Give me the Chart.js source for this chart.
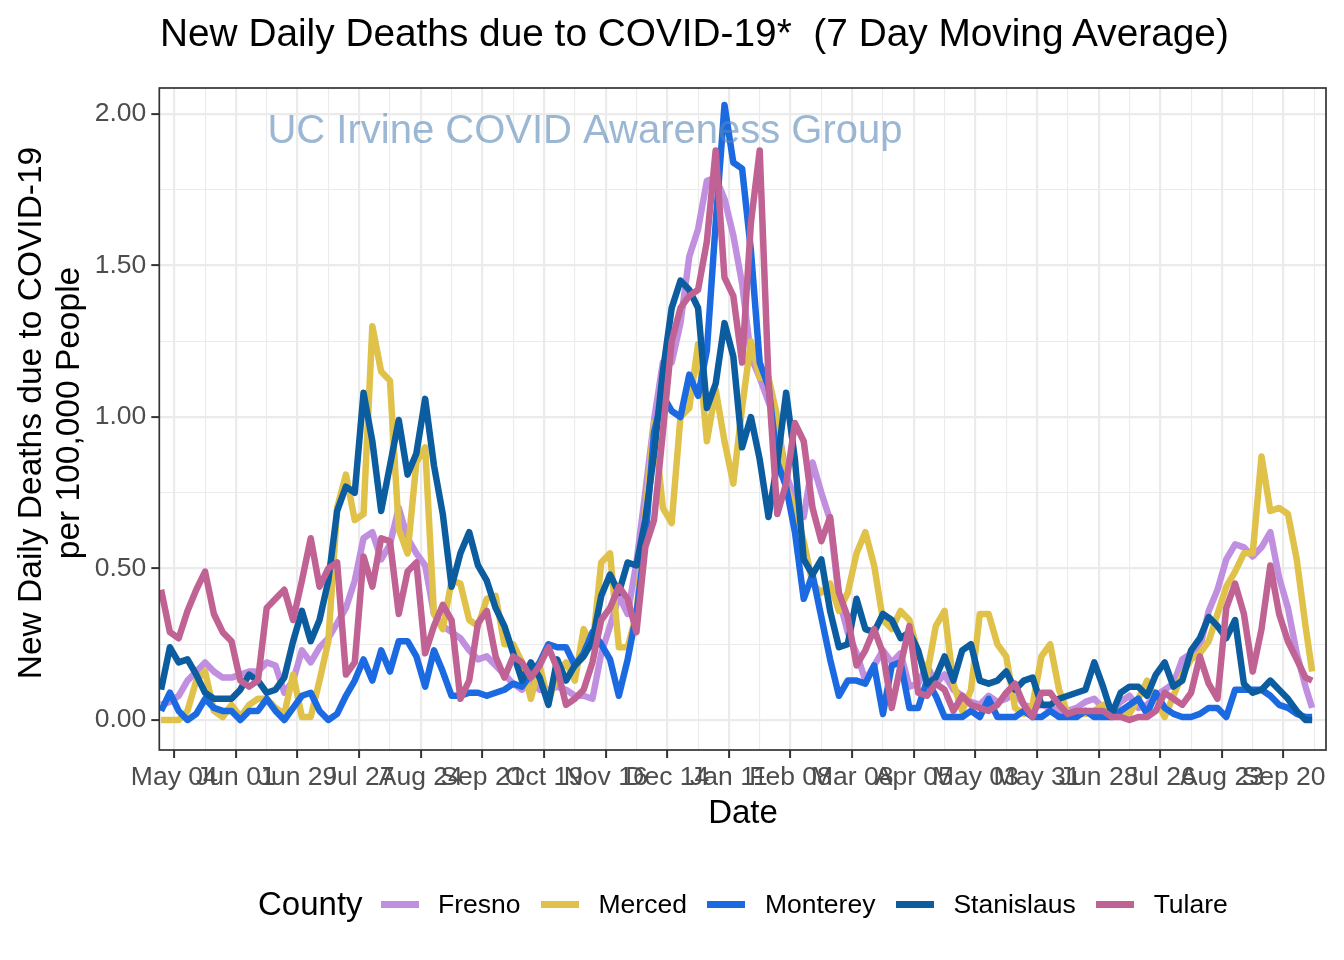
<!DOCTYPE html>
<html>
<head>
<meta charset="utf-8">
<script src="https://cdn.jsdelivr.net/npm/chart.js@4.4.0/dist/chart.umd.min.js"></script>
<style>
  body { margin: 0; background: #fff; font-family: "Liberation Sans", Arial, sans-serif; }
  #wrap { position: relative; width: 1344px; height: 960px; overflow: hidden; }
  #chart { position: absolute; left: 0; top: 0; }
  .txt { position: absolute; white-space: nowrap; color: #000; line-height: 1; }
  #title { left: 160px; top: 14px; font-size: 38.8px; }
  #ytitle { left: -281px; top: 375px; width: 660px; height: 76px; font-size: 33.5px; line-height: 38px;
            text-align: center; transform: rotate(-90deg); }
  #xtitle { left: 643px; top: 795px; width: 200px; text-align: center; font-size: 33px; }
  #legend { position: absolute; left: 258px; top: 880px; display: flex; align-items: flex-start; }
  #legend .head { font-size: 33px; line-height: 1; margin-top: 7px; }
  #legend .key { width: 38px; height: 7px; margin-top: 21px; margin-left: 20.5px; }
  #legend .key.first { margin-left: 18px; }
  #legend .lab { font-size: 26.5px; line-height: 1; margin-top: 11px; margin-left: 19.5px; }
</style>
</head>
<body>
<div id="wrap">
  <canvas id="chart" width="1344" height="960"></canvas>
  <div class="txt" id="title">New Daily Deaths due to COVID-19*&nbsp; (7 Day Moving Average)</div>
  <div class="txt" id="ytitle">New Daily Deaths due to COVID-19<br>per 100,000 People</div>
  <div class="txt" id="xtitle">Date</div>
  <div id="legend"><div class="head">County</div></div>
</div>
<script>
// days since 2020-05-04
var days = [-6,-2,2,6,10,14,18,22,26,30,34,38,42,46,50,54,58,62,66,70,74,78,82,86,90,94,98,102,106,110,
  114,118,122,126,130,134,138,142,146,150,154,158,162,166,170,174,178,182,186,190,194,198,202,206,210,214,
  218,222,226,230,234,238,242,246,250,254,258,262,266,270,274,278,282,286,290,294,298,302,306,310,314,318,
  322,326,330,334,338,342,346,350,354,358,362,366,370,374,378,382,386,390,394,398,402,406,410,414,418,422,
  426,430,434,438,442,446,450,454,458,462,466,470,474,478,482,486,490,494,498,502,506,510,514,517];

var fresno = [0.05,0.06,0.08,0.13,0.16,0.19,0.16,0.14,0.14,0.15,0.16,0.16,0.19,0.18,0.09,0.13,0.23,0.19,0.24,0.27,0.32,0.37,0.46,0.60,
  0.62,0.53,0.58,0.70,0.60,0.55,0.51,0.35,0.31,0.29,0.27,0.23,0.20,0.21,0.18,0.15,0.12,0.10,0.13,0.10,0.10,0.11,
  0.10,0.08,0.08,0.07,0.22,0.31,0.41,0.35,0.52,0.75,0.99,1.18,1.18,1.31,
  1.53,1.62,1.78,1.79,1.72,1.60,1.44,1.20,1.13,1.05,0.98,0.81,
  0.73,0.67,0.85,0.75,0.66,0.40,0.29,0.22,0.13,0.18,0.23,0.19,0.22,0.11,0.12,0.18,0.12,
  0.15,0.10,0.08,0.06,0.05,0.08,0.06,0.07,0.09,0.05,0.04,0.05,0.04,0.03,0.03,0.04,0.06,0.07,0.04,0.03,0.06,0.08,
  0.04,0.05,0.08,0.10,0.12,0.20,0.22,0.24,0.36,0.43,0.53,0.58,0.57,0.54,0.57,0.62,0.47,0.37,0.22,0.11,0.04];

var merced = [0.00,0.00,0.00,0.03,0.13,0.16,0.03,0.01,0.05,0.01,0.05,0.07,0.07,0.04,0.02,0.15,0.01,0.01,0.13,0.26,0.70,0.81,0.66,0.68,
  1.30,1.15,1.12,0.63,0.55,0.85,0.90,0.35,0.30,0.46,0.45,0.33,0.31,0.40,0.41,0.25,0.25,0.19,0.07,0.18,0.06,0.15,
  0.19,0.13,0.30,0.24,0.52,0.55,0.24,0.24,0.35,0.68,0.98,0.70,0.65,1.00,
  1.03,1.24,0.92,1.09,0.92,0.78,1.03,1.25,1.13,1.13,1.00,0.77,
  0.70,0.59,0.45,0.42,0.45,0.36,0.42,0.55,0.62,0.51,0.33,0.30,0.36,0.33,0.22,0.15,0.31,
  0.36,0.12,0.03,0.10,0.35,0.35,0.25,0.21,0.04,0.02,0.05,0.21,0.25,0.10,0.02,0.02,0.02,0.03,0.05,0.02,0.03,0.02,
  0.07,0.13,0.07,0.01,0.08,0.15,0.20,0.22,0.26,0.35,0.44,0.49,0.55,0.55,0.87,0.69,0.70,0.68,0.53,0.31,0.16];

var monterey = [0.03,0.09,0.03,0.00,0.02,0.07,0.04,0.03,0.03,0.00,0.03,0.03,0.07,0.03,0.00,0.04,0.08,0.09,0.03,0.00,0.02,0.08,0.13,0.20,
  0.13,0.23,0.16,0.26,0.26,0.21,0.11,0.23,0.16,0.08,0.08,0.09,0.09,0.08,0.09,0.10,0.12,0.11,0.15,0.19,0.25,0.24,
  0.24,0.18,0.22,0.29,0.25,0.20,0.08,0.20,0.35,0.59,0.95,1.07,1.02,1.00,
  1.14,1.07,1.22,1.64,2.03,1.84,1.82,1.55,1.18,1.10,0.85,0.77,
  0.62,0.40,0.48,0.34,0.20,0.08,0.13,0.13,0.12,0.18,0.02,0.18,0.19,0.04,0.04,0.13,0.08,
  0.01,0.01,0.01,0.03,0.01,0.07,0.01,0.01,0.01,0.03,0.01,0.01,0.03,0.01,0.01,0.01,0.03,0.01,0.01,0.01,0.03,0.05,
  0.07,0.02,0.09,0.04,0.02,0.01,0.01,0.02,0.04,0.04,0.01,0.10,0.10,0.10,0.10,0.08,0.05,0.04,0.02,0.01,0.01];

var stanislaus = [0.10,0.24,0.19,0.20,0.15,0.09,0.07,0.07,0.07,0.10,0.15,0.13,0.09,0.10,0.14,0.26,0.36,0.26,0.33,0.46,0.69,0.77,0.75,1.08,
  0.92,0.69,0.84,0.99,0.81,0.88,1.06,0.84,0.68,0.44,0.55,0.62,0.51,0.46,0.37,0.31,0.22,0.13,0.19,0.14,0.05,0.20,
  0.13,0.18,0.21,0.26,0.41,0.48,0.42,0.52,0.51,0.66,0.88,1.15,1.36,1.45,
  1.42,1.36,1.03,1.11,1.31,1.20,0.90,1.00,0.86,0.67,0.85,1.08,
  0.86,0.53,0.48,0.53,0.36,0.24,0.25,0.40,0.30,0.29,0.35,0.33,0.27,0.29,0.23,0.12,0.14,
  0.21,0.13,0.23,0.25,0.13,0.12,0.13,0.16,0.10,0.13,0.14,0.05,0.05,0.07,0.08,0.09,0.10,0.19,0.11,0.02,0.09,0.11,
  0.11,0.08,0.15,0.19,0.11,0.13,0.23,0.27,0.34,0.31,0.27,0.33,0.12,0.09,0.10,0.13,0.10,0.07,0.03,0.00,0.00];

var tulare = [0.43,0.29,0.27,0.36,0.43,0.49,0.35,0.29,0.26,0.13,0.11,0.13,0.37,0.40,0.43,0.33,0.46,0.60,0.44,0.50,0.52,0.15,0.19,0.54,
  0.44,0.60,0.59,0.35,0.49,0.52,0.22,0.31,0.38,0.33,0.07,0.13,0.32,0.36,0.21,0.14,0.21,0.19,0.14,0.18,0.24,0.17,
  0.05,0.07,0.10,0.19,0.33,0.37,0.44,0.40,0.29,0.57,0.66,0.95,1.25,1.36,
  1.40,1.42,1.58,1.88,1.46,1.40,1.18,1.64,1.88,1.12,0.68,0.78,
  0.98,0.92,0.70,0.59,0.67,0.42,0.34,0.18,0.23,0.30,0.22,0.04,0.18,0.31,0.09,0.08,0.12,
  0.10,0.03,0.08,0.05,0.04,0.03,0.05,0.09,0.12,0.05,0.01,0.09,0.09,0.05,0.02,0.03,0.03,0.03,0.03,0.01,0.01,0.00,
  0.01,0.01,0.03,0.09,0.07,0.05,0.09,0.21,0.12,0.07,0.37,0.45,0.35,0.16,0.30,0.51,0.35,0.26,0.20,0.14,0.13];

var counties = ["Fresno", "Merced", "Monterey", "Stanislaus", "Tulare"];
var xTickLabels = ["May 04","Jun 01","Jun 29","Jul 27","Aug 24","Sep 21","Oct 19","Nov 16","Dec 14","Jan 11",
  "Feb 08","Mar 08","Apr 05","May 03","May 31","Jun 28","Jul 26","Aug 23","Sep 20"];
var yTickLabels = ["0.00", "0.50", "1.00", "1.50", "2.00"];
var watermark = "UC Irvine COVID Awareness Group";

var colors = ["#C18FE0", "#E0C14A", "#1B6AE1", "#0B5DA0", "#C06293"];
var series = [fresno, merced, monterey, stanislaus, tulare];
var fontFamily = '"Liberation Sans", Arial, sans-serif';

var datasets = series.map(function(values, i) {
    if (values.length !== days.length) throw new Error(counties[i] + " has " + values.length + " values");
    return {
        label: counties[i],
        data: days.map(function(d, j) { return { x: d, y: values[j] }; }),
        borderColor: colors[i],
        backgroundColor: colors[i],
        borderWidth: 6.5,
        pointRadius: 0,
        tension: 0,
        borderJoinStyle: "round",
        clip: 0,
        order: counties.length - i   // later counties drawn on top, like ggplot
    };
});

// legend in html
var legend = document.getElementById("legend");
counties.forEach(function(name, i) {
    var key = document.createElement("div");
    key.className = i === 0 ? "key first" : "key";
    key.style.background = colors[i];
    legend.appendChild(key);
    var lab = document.createElement("div");
    lab.className = "lab";
    lab.textContent = name;
    legend.appendChild(lab);
});

var panel = {
    id: "panel",
    afterDatasetsDraw: function(chart) {
        var ctx = chart.ctx, a = chart.chartArea;
        ctx.save();
        ctx.font = "40px " + fontFamily;
        ctx.fillStyle = "rgba(88,135,183,0.6)";
        ctx.textAlign = "center";
        ctx.textBaseline = "middle";
        ctx.fillText(watermark, chart.scales.x.getPixelForValue(186.6), chart.scales.y.getPixelForValue(1.94));
        ctx.strokeStyle = "#333333";
        ctx.lineWidth = 1.7;
        ctx.strokeRect(a.left, a.top, a.width, a.height);
        ctx.restore();
    }
};

function isMajorX(v) { return v % 28 === 0; }
function isMajorY(v) { return Math.round(v * 100) % 50 === 0; }

new Chart(document.getElementById("chart").getContext("2d"), {
    type: "line",
    data: { datasets: datasets },
    options: {
        responsive: false,
        animation: false,
        devicePixelRatio: 1,
        layout: { padding: { top: 88, right: 18, left: 0, bottom: 0 } },
        plugins: { legend: { display: false }, title: { display: false }, tooltip: { enabled: false } },
        scales: {
            x: {
                type: "linear",
                min: -6.8,
                max: 523.3,
                afterFit: function(s) { s.height = 210; },
                border: { display: false },
                grid: {
                    color: "#EBEBEB",
                    lineWidth: function(c) { return c.tick && isMajorX(c.tick.value) ? 2.2 : 1.1; },
                    tickLength: 8,
                    tickWidth: 2,
                    tickColor: function(c) { return c.tick && isMajorX(c.tick.value) ? "#333333" : "rgba(0,0,0,0)"; }
                },
                ticks: {
                    stepSize: 14,
                    includeBounds: false,
                    autoSkip: false,
                    maxRotation: 0,
                    minRotation: 0,
                    padding: 4,
                    color: "#4D4D4D",
                    font: { family: fontFamily, size: 26.5 },
                    callback: function(v) { return isMajorX(v) ? xTickLabels[v / 28] : ""; }
                }
            },
            y: {
                min: -0.099,
                max: 2.086,
                afterFit: function(s) { s.width = 159.3; },
                border: { display: false },
                grid: {
                    color: "#EBEBEB",
                    lineWidth: function(c) { return c.tick && isMajorY(c.tick.value) ? 2.2 : 1.1; },
                    tickLength: 8,
                    tickWidth: 2,
                    tickColor: function(c) { return c.tick && isMajorY(c.tick.value) ? "#333333" : "rgba(0,0,0,0)"; }
                },
                ticks: {
                    stepSize: 0.25,
                    includeBounds: false,
                    padding: 5,
                    color: "#4D4D4D",
                    font: { family: fontFamily, size: 26.5 },
                    callback: function(v) { return isMajorY(v) ? yTickLabels[Math.round(v / 0.5)] : ""; }
                }
            }
        }
    },
    plugins: [panel]
});
</script>
</body>
</html>
